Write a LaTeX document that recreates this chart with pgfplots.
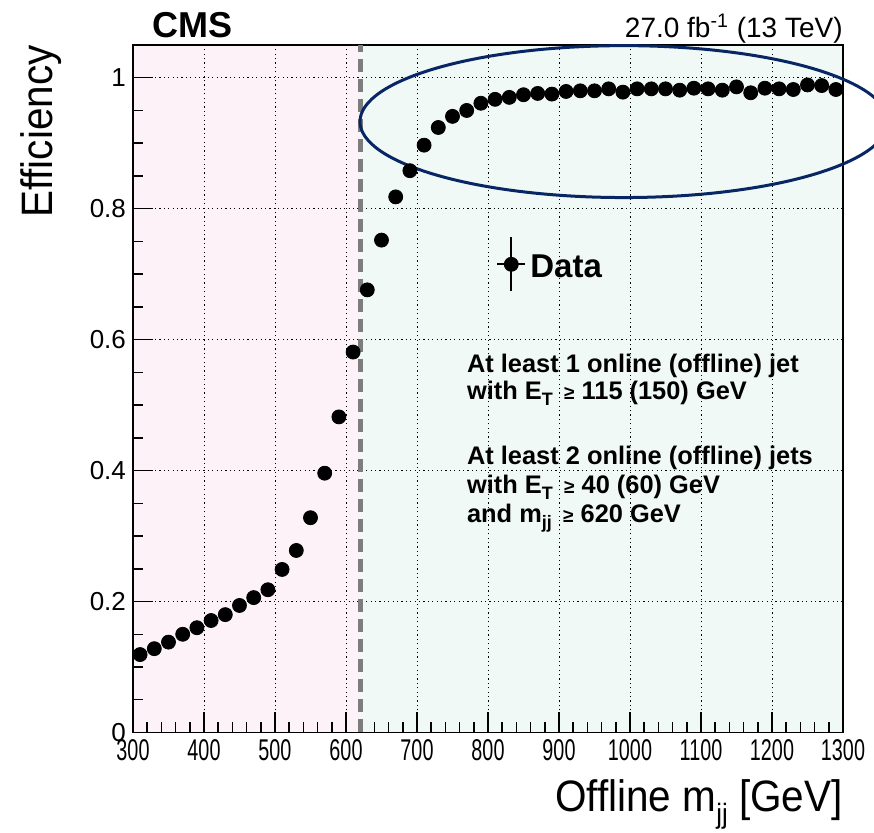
\documentclass[border=0pt]{standalone}
\usepackage{fontspec}
\setmainfont{Liberation Sans}
\newfontfamily\narrowfont{Liberation Sans}[FakeStretch=0.92]
\newfontfamily\ticknarrow{Liberation Sans}[FakeStretch=0.66]
\usepackage{pgfplots}
\pgfplotsset{compat=1.18}

\definecolor{bgpink}{RGB}{253,242,248}
\definecolor{bggreen}{RGB}{240,249,245}
\definecolor{cutgray}{RGB}{125,125,125}
\definecolor{navy}{RGB}{8,38,100}

\pgfplotstableread{
x    eff
310  0.119
330  0.128
350  0.138
370  0.150
390  0.160
410  0.171
430  0.180
450  0.194
470  0.206
490  0.218
510  0.249
530  0.278
550  0.328
570  0.396
590  0.482
610  0.581
630  0.676
650  0.752
670  0.818
690  0.858
710  0.897
730  0.924
750  0.941
770  0.950
790  0.961
810  0.967
830  0.970
850  0.974
870  0.976
890  0.975
910  0.979
930  0.980
950  0.980
970  0.983
990  0.978
1010 0.983
1030 0.983
1050 0.983
1070 0.981
1090 0.984
1110 0.983
1130 0.981
1150 0.986
1170 0.977
1190 0.984
1210 0.983
1230 0.982
1250 0.989
1270 0.988
1290 0.982
}\efftable

\begin{document}
\begin{tikzpicture}
\begin{axis}[
    name=ax,
    scale only axis,
    width=355pt, height=343.75pt,
    xmin=300, xmax=1300,
    ymin=0, ymax=1.05,
    xtick={300,400,500,600,700,800,900,1000,1100,1200,1300},
    ytick={0,0.2,0.4,0.6,0.8,1},
    minor x tick num=4,
    minor y tick num=3,
    tick align=inside,
    xtick pos=bottom, ytick pos=left,
    major tick length=10pt, minor tick length=5pt,
    grid=major,
    major grid style={black, line width=0.5pt, dash pattern=on 0.6pt off 1.6pt},
    axis line style={line width=0.75pt},
    tick style={black, line width=0.75pt},
    clip=false,
    set layers,
    /pgf/number format/assume math mode=true,
    /pgf/number format/set thousands separator={},
    xticklabel style={font=\ticknarrow\fontsize{15}{16}\selectfont},
    yticklabel style={font=\fontsize{13}{14}\selectfont},
    legend style={at={(axis cs:811,0.715)}, anchor=west, draw=none, fill=none,
        inner sep=0pt, font=\bfseries\fontsize{16.5}{18}\selectfont},
]
% shaded regions
\addplot[draw=none, fill=bgpink, on layer=axis background, forget plot]
    coordinates {(300,0)(620,0)(620,1.05)(300,1.05)} \closedcycle;
\addplot[draw=none, fill=bggreen, on layer=axis background, forget plot]
    coordinates {(620,0)(1300,0)(1300,1.05)(620,1.05)} \closedcycle;

% data
\addplot[only marks, mark=*, mark size=3.5pt, black,
    legend image code/.code={
        \draw[black, line width=1.1pt] (0pt,1.5pt) -- (14pt,1.5pt);
        \draw[black, line width=1.1pt] (7pt,-12pt) -- (7pt,15pt);
        \fill[black] (7pt,1.5pt) circle (3.5pt);
    }]
    table[x=x, y=eff] {\efftable};
\addlegendentry{Data}

% m_jj cut
\addplot[cutgray, line width=2.5pt, dash pattern=on 6.5pt off 3.5pt, forget plot]
    coordinates {(620,0)(620,1.05)};

% plateau ellipse
\draw[navy, line width=1.5pt] (axis cs:991.5,0.933) ellipse [x radius=371.8, y radius=0.116];

% texts
\begin{scope}[every node/.style={inner sep=0pt}]
\node[anchor=base west, font=\bfseries\fontsize{18}{20}\selectfont] at (rel axis cs:0.0268,1.0102) {CMS};
\node[anchor=base east, font=\fontsize{14}{15}\selectfont] at (rel axis cs:1,1.0102) {27.0 fb\textsuperscript{-1} (13 TeV)};

\node[anchor=base west, font=\bfseries\fontsize{12.7}{14}\selectfont] at (axis cs:770,0.550) {At least 1 online (offline) jet};
\node[anchor=base west, font=\bfseries\fontsize{12.7}{14}\selectfont] at (axis cs:770,0.5084) {with E\raisebox{-0.45ex}{\fontsize{9}{10}\selectfont T} \,{\fontsize{9.5}{10}\selectfont ≥} 115 (150) GeV};
\node[anchor=base west, font=\bfseries\fontsize{12.7}{14}\selectfont] at (axis cs:770,0.409) {At least 2 online (offline) jets};
\node[anchor=base west, font=\bfseries\fontsize{12.7}{14}\selectfont] at (axis cs:770,0.3647) {with E\raisebox{-0.45ex}{\fontsize{9}{10}\selectfont T} \,{\fontsize{9.5}{10}\selectfont ≥} 40 (60) GeV};
\node[anchor=base west, font=\bfseries\fontsize{12.7}{14}\selectfont] at (axis cs:770,0.3208) {and m\raisebox{-0.45ex}{\fontsize{9}{10}\selectfont jj} \,{\fontsize{9.5}{10}\selectfont ≥} 620 GeV};

% axis titles
\node[rotate=90, anchor=base east, font=\narrowfont\fontsize{22}{24}\selectfont] at (rel axis cs:-0.1127,1) {Efficiency};
\node[anchor=base east, font=\narrowfont\fontsize{22}{24}\selectfont] at (rel axis cs:1,-0.1156) {Offline m\raisebox{-0.5ex}{\fontsize{14}{15}\selectfont jj} [GeV]};
\end{scope}
\end{axis}
\pgfresetboundingbox
\path[use as bounding box] ([shift={(-66.5pt,-50.25pt)}]ax.south west) rectangle ([shift={(370.5pt,366.25pt)}]ax.south west);
\end{tikzpicture}
\end{document}
